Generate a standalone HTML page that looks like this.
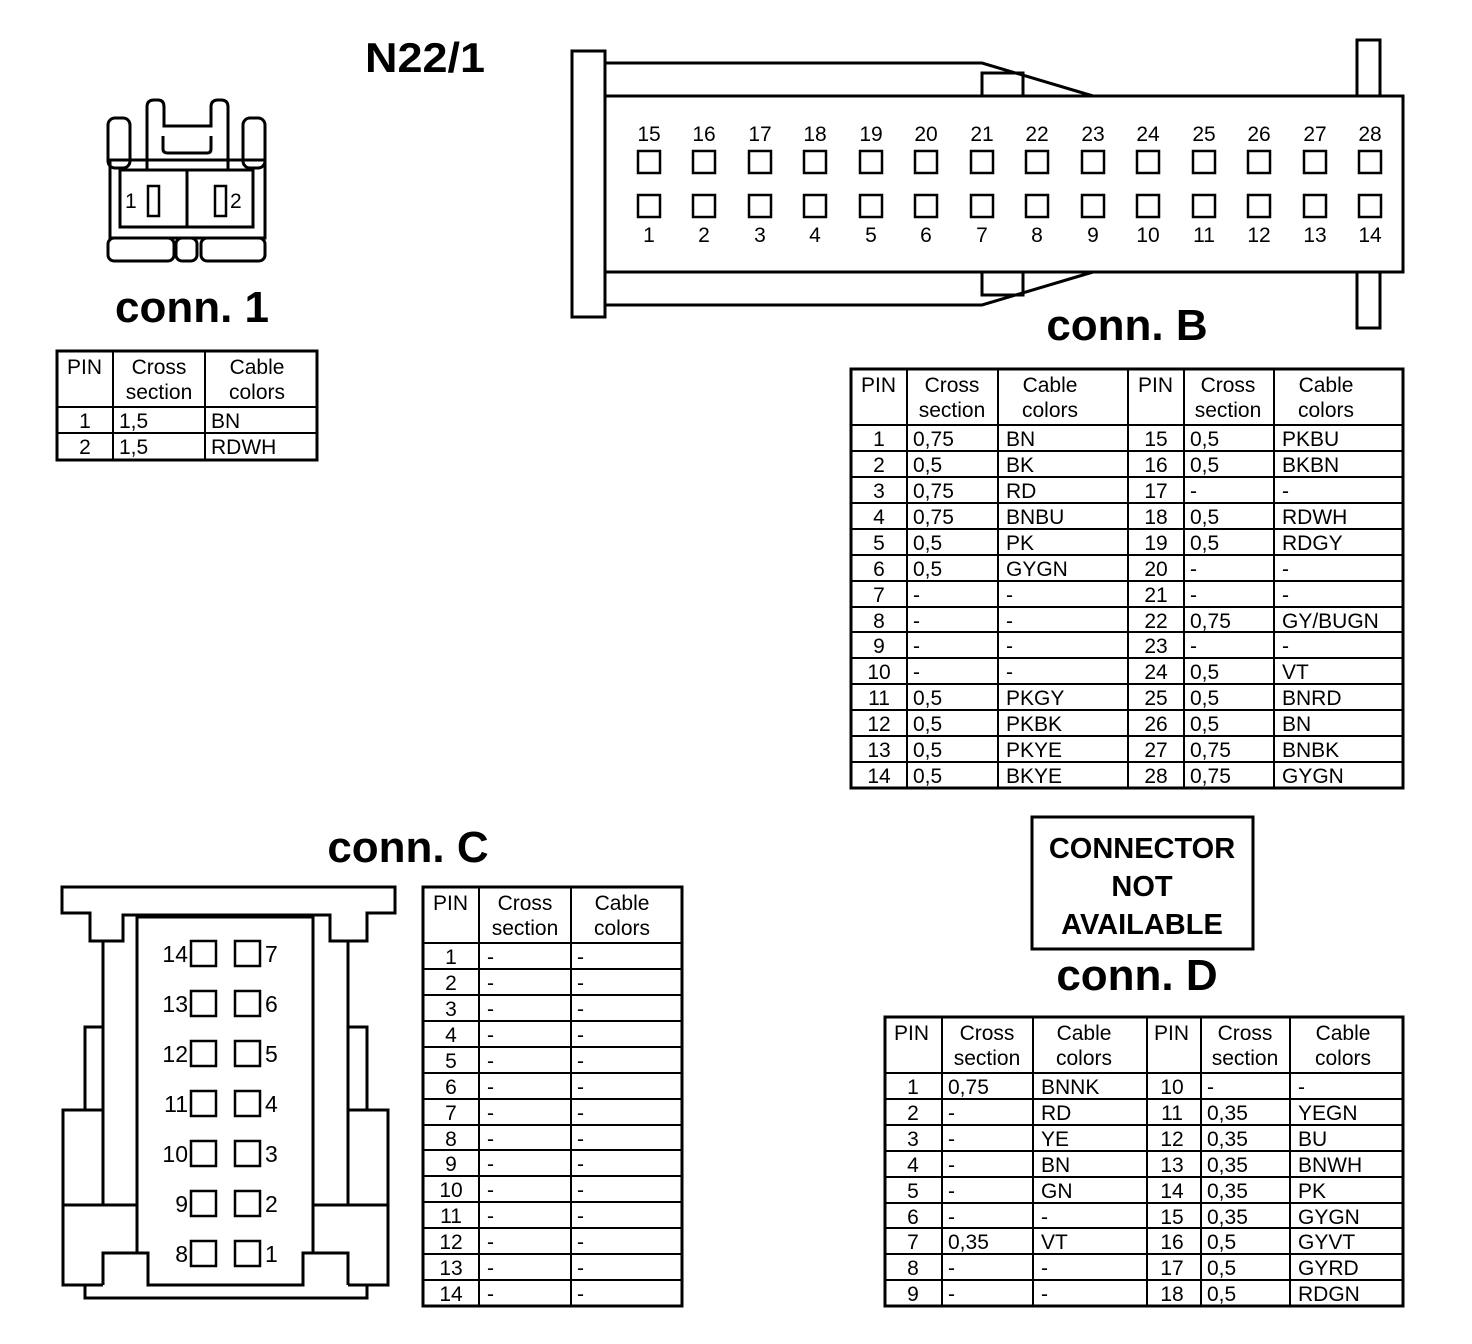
<!DOCTYPE html>
<html><head><meta charset="utf-8"><style>
html,body{margin:0;padding:0;background:#fff}
svg{display:block}
text{font-family:"Liberation Sans",sans-serif;fill:#000}
.t{font-size:21px}
.b{font-weight:bold}
.c{text-anchor:middle}
</style></head><body>
<svg width="1472" height="1344" viewBox="0 0 1472 1344" xmlns="http://www.w3.org/2000/svg">
<g fill="none" stroke="#000" stroke-width="3">
<!-- conn 1 -->
<rect x="108" y="118" width="22" height="50" rx="7"/>
<rect x="243" y="118" width="22" height="50" rx="7"/>
<path d="M147 170 V107 Q147 100 154 100 H158 Q164 100 164 107 V126 H211 V107 Q211 100 218 100 H221 Q228 100 228 107 V170"/>
<path d="M163 136 V149 Q163 153 168 153 H207 Q211 153 211 149 V136"/>
<rect x="110" y="160" width="155" height="78"/>
<rect x="120" y="170" width="133" height="57"/>
<line x1="187" y1="170" x2="187" y2="227"/>
<rect x="148" y="186" width="11" height="30" stroke-width="2.5"/>
<rect x="215" y="186" width="11" height="30" stroke-width="2.5"/>
<rect x="108" y="238" width="66" height="23" rx="6"/>
<rect x="201" y="238" width="64" height="23" rx="6"/>
<rect x="176" y="238" width="21" height="23" rx="6"/>
<!-- conn B -->
<rect x="572" y="51" width="33" height="266"/>
<path d="M605 63 H982 L1093 96"/>
<path d="M605 305 H982 L1093 272"/>
<rect x="982" y="73" width="41" height="23"/>
<rect x="982" y="272" width="41" height="23"/>
<rect x="1357" y="40" width="23" height="288"/>
<rect x="605" y="96" width="798" height="176" fill="#fff"/>
</g>
<g fill="none" stroke="#000" stroke-width="2.5">
<rect x="638" y="151" width="22" height="22"/><rect x="693" y="151" width="22" height="22"/><rect x="749" y="151" width="22" height="22"/><rect x="804" y="151" width="22" height="22"/><rect x="860" y="151" width="22" height="22"/><rect x="915" y="151" width="22" height="22"/><rect x="971" y="151" width="22" height="22"/><rect x="1026" y="151" width="22" height="22"/><rect x="1082" y="151" width="22" height="22"/><rect x="1137" y="151" width="22" height="22"/><rect x="1193" y="151" width="22" height="22"/><rect x="1248" y="151" width="22" height="22"/><rect x="1304" y="151" width="22" height="22"/><rect x="1359" y="151" width="22" height="22"/>
<rect x="638" y="195" width="22" height="22"/><rect x="693" y="195" width="22" height="22"/><rect x="749" y="195" width="22" height="22"/><rect x="804" y="195" width="22" height="22"/><rect x="860" y="195" width="22" height="22"/><rect x="915" y="195" width="22" height="22"/><rect x="971" y="195" width="22" height="22"/><rect x="1026" y="195" width="22" height="22"/><rect x="1082" y="195" width="22" height="22"/><rect x="1137" y="195" width="22" height="22"/><rect x="1193" y="195" width="22" height="22"/><rect x="1248" y="195" width="22" height="22"/><rect x="1304" y="195" width="22" height="22"/><rect x="1359" y="195" width="22" height="22"/>
</g>
<g class="t c">
<text x="649" y="141">15</text><text x="704" y="141">16</text><text x="760" y="141">17</text><text x="815" y="141">18</text><text x="871" y="141">19</text><text x="926" y="141">20</text><text x="982" y="141">21</text><text x="1037" y="141">22</text><text x="1093" y="141">23</text><text x="1148" y="141">24</text><text x="1204" y="141">25</text><text x="1259" y="141">26</text><text x="1315" y="141">27</text><text x="1370" y="141">28</text>
<text x="649" y="242">1</text><text x="704" y="242">2</text><text x="760" y="242">3</text><text x="815" y="242">4</text><text x="871" y="242">5</text><text x="926" y="242">6</text><text x="982" y="242">7</text><text x="1037" y="242">8</text><text x="1093" y="242">9</text><text x="1148" y="242">10</text><text x="1204" y="242">11</text><text x="1259" y="242">12</text><text x="1315" y="242">13</text><text x="1370" y="242">14</text>
</g>
<text x="125" y="208" class="t">1</text><text x="230" y="208" class="t">2</text>
<!-- conn C drawing -->
<g fill="none" stroke="#000" stroke-width="3">
<path d="M62 887 H395 V913 H367 V941 H330 V915 H123 V941 H90 V913 H62 Z"/>
<path d="M137 1253 V917 H313 V1253"/>
<path d="M103 941 V1205 M348 941 V1205"/>
<path d="M103 1027 H85 V1110 H63 V1285 H103 M348 1027 H367 V1110 H388 V1285 H348"/>
<path d="M85 1110 H103 M367 1110 H348"/>
<path d="M63 1205 H137 M388 1205 H313"/>
<path d="M85 1285 V1298 H367 V1285"/>
<path d="M103 1285 V1253 H148 V1285 H303 V1253 H348 V1285"/>
</g>
<g fill="none" stroke="#000" stroke-width="2.5">
<rect x="191" y="941" width="25" height="25"/><rect x="191" y="991" width="25" height="25"/><rect x="191" y="1041" width="25" height="25"/><rect x="191" y="1091" width="25" height="25"/><rect x="191" y="1141" width="25" height="25"/><rect x="191" y="1191" width="25" height="25"/><rect x="191" y="1241" width="25" height="25"/>
<rect x="235" y="941" width="25" height="25"/><rect x="235" y="991" width="25" height="25"/><rect x="235" y="1041" width="25" height="25"/><rect x="235" y="1091" width="25" height="25"/><rect x="235" y="1141" width="25" height="25"/><rect x="235" y="1191" width="25" height="25"/><rect x="235" y="1241" width="25" height="25"/>
</g>
<g class="t" style="font-size:23px">
<g text-anchor="end"><text x="188" y="962">14</text><text x="188" y="1012">13</text><text x="188" y="1062">12</text><text x="188" y="1112">11</text><text x="188" y="1162">10</text><text x="188" y="1212">9</text><text x="188" y="1262">8</text></g>
<text x="265" y="962">7</text><text x="265" y="1012">6</text><text x="265" y="1062">5</text><text x="265" y="1112">4</text><text x="265" y="1162">3</text><text x="265" y="1212">2</text><text x="265" y="1262">1</text>
</g>
<!-- titles -->
<text x="365" y="72" class="b" style="font-size:42px" textLength="120" lengthAdjust="spacingAndGlyphs">N22/1</text>
<text x="192" y="322" class="b c" style="font-size:44px">conn. 1</text>
<text x="1127" y="340" class="b c" style="font-size:44px">conn. B</text>
<text x="408" y="862" class="b c" style="font-size:44px">conn. C</text>
<text x="1137" y="990" class="b c" style="font-size:44px">conn. D</text>
<rect x="1032" y="817" width="221" height="132" fill="none" stroke="#000" stroke-width="3"/>
<g class="b c" style="font-size:29px"><text x="1142" y="858">CONNECTOR</text><text x="1142" y="896">NOT</text><text x="1142" y="934">AVAILABLE</text></g>

<!-- conn 1 table -->
<g fill="none" stroke="#000" stroke-width="2">
<rect x="57" y="351" width="260" height="109" stroke-width="3"/>
<path d="M113 351 V460 M205 351 V460 M57 407 H317 M57 433 H317"/>
</g>
<g class="t">
<text x="67" y="374">PIN</text><text x="159" y="374" class="c">Cross</text><text x="159" y="399" class="c">section</text><text x="257" y="374" class="c">Cable</text><text x="257" y="399" class="c">colors</text>
<text x="85" y="428" class="c">1</text><text x="119" y="428">1,5</text><text x="211" y="428">BN</text>
<text x="85" y="454" class="c">2</text><text x="119" y="454">1,5</text><text x="211" y="454">RDWH</text>
</g>

<!-- conn B table -->
<g fill="none" stroke="#000" stroke-width="2">
<rect x="851" y="369" width="552" height="419" stroke-width="3"/>
<path d="M907 369 V788 M998 369 V788 M1128 369 V788 M1184 369 V788 M1274 369 V788"/>
<path d="M851 425 H1403 M851 451 H1403 M851 477 H1403 M851 503 H1403 M851 529 H1403 M851 555 H1403 M851 581 H1403 M851 607 H1403 M851 632 H1403 M851 658 H1403 M851 684 H1403 M851 710 H1403 M851 736 H1403 M851 762 H1403"/>
</g>
<g class="t">
<text x="861" y="392">PIN</text><text x="952" y="392" class="c">Cross</text><text x="952" y="417" class="c">section</text><text x="1050" y="392" class="c">Cable</text><text x="1050" y="417" class="c">colors</text>
<text x="1138" y="392">PIN</text><text x="1228" y="392" class="c">Cross</text><text x="1228" y="417" class="c">section</text><text x="1326" y="392" class="c">Cable</text><text x="1326" y="417" class="c">colors</text>
<g class="c"><text x="879" y="446">1</text><text x="879" y="472">2</text><text x="879" y="498">3</text><text x="879" y="524">4</text><text x="879" y="550">5</text><text x="879" y="576">6</text><text x="879" y="602">7</text><text x="879" y="628">8</text><text x="879" y="653">9</text><text x="879" y="679">10</text><text x="879" y="705">11</text><text x="879" y="731">12</text><text x="879" y="757">13</text><text x="879" y="783">14</text>
<text x="1156" y="446">15</text><text x="1156" y="472">16</text><text x="1156" y="498">17</text><text x="1156" y="524">18</text><text x="1156" y="550">19</text><text x="1156" y="576">20</text><text x="1156" y="602">21</text><text x="1156" y="628">22</text><text x="1156" y="653">23</text><text x="1156" y="679">24</text><text x="1156" y="705">25</text><text x="1156" y="731">26</text><text x="1156" y="757">27</text><text x="1156" y="783">28</text></g>
<text x="913" y="446">0,75</text><text x="913" y="472">0,5</text><text x="913" y="498">0,75</text><text x="913" y="524">0,75</text><text x="913" y="550">0,5</text><text x="913" y="576">0,5</text><text x="913" y="602">-</text><text x="913" y="628">-</text><text x="913" y="653">-</text><text x="913" y="679">-</text><text x="913" y="705">0,5</text><text x="913" y="731">0,5</text><text x="913" y="757">0,5</text><text x="913" y="783">0,5</text>
<text x="1006" y="446">BN</text><text x="1006" y="472">BK</text><text x="1006" y="498">RD</text><text x="1006" y="524">BNBU</text><text x="1006" y="550">PK</text><text x="1006" y="576">GYGN</text><text x="1006" y="602">-</text><text x="1006" y="628">-</text><text x="1006" y="653">-</text><text x="1006" y="679">-</text><text x="1006" y="705">PKGY</text><text x="1006" y="731">PKBK</text><text x="1006" y="757">PKYE</text><text x="1006" y="783">BKYE</text>
<text x="1190" y="446">0,5</text><text x="1190" y="472">0,5</text><text x="1190" y="498">-</text><text x="1190" y="524">0,5</text><text x="1190" y="550">0,5</text><text x="1190" y="576">-</text><text x="1190" y="602">-</text><text x="1190" y="628">0,75</text><text x="1190" y="653">-</text><text x="1190" y="679">0,5</text><text x="1190" y="705">0,5</text><text x="1190" y="731">0,5</text><text x="1190" y="757">0,75</text><text x="1190" y="783">0,75</text>
<text x="1282" y="446">PKBU</text><text x="1282" y="472">BKBN</text><text x="1282" y="498">-</text><text x="1282" y="524">RDWH</text><text x="1282" y="550">RDGY</text><text x="1282" y="576">-</text><text x="1282" y="602">-</text><text x="1282" y="628">GY/BUGN</text><text x="1282" y="653">-</text><text x="1282" y="679">VT</text><text x="1282" y="705">BNRD</text><text x="1282" y="731">BN</text><text x="1282" y="757">BNBK</text><text x="1282" y="783">GYGN</text>
</g>

<!-- conn C table -->
<g fill="none" stroke="#000" stroke-width="2">
<rect x="423" y="887" width="259" height="419" stroke-width="3"/>
<path d="M479 887 V1306 M571 887 V1306"/>
<path d="M423 943 H682 M423 969 H682 M423 995 H682 M423 1021 H682 M423 1047 H682 M423 1073 H682 M423 1099 H682 M423 1125 H682 M423 1150 H682 M423 1176 H682 M423 1202 H682 M423 1228 H682 M423 1254 H682 M423 1280 H682"/>
</g>
<g class="t">
<text x="433" y="910">PIN</text><text x="525" y="910" class="c">Cross</text><text x="525" y="935" class="c">section</text><text x="622" y="910" class="c">Cable</text><text x="622" y="935" class="c">colors</text>
<g class="c"><text x="451" y="964">1</text><text x="451" y="990">2</text><text x="451" y="1016">3</text><text x="451" y="1042">4</text><text x="451" y="1068">5</text><text x="451" y="1094">6</text><text x="451" y="1120">7</text><text x="451" y="1146">8</text><text x="451" y="1171">9</text><text x="451" y="1197">10</text><text x="451" y="1223">11</text><text x="451" y="1249">12</text><text x="451" y="1275">13</text><text x="451" y="1301">14</text></g>
<text x="487" y="964">-</text><text x="487" y="990">-</text><text x="487" y="1016">-</text><text x="487" y="1042">-</text><text x="487" y="1068">-</text><text x="487" y="1094">-</text><text x="487" y="1120">-</text><text x="487" y="1146">-</text><text x="487" y="1171">-</text><text x="487" y="1197">-</text><text x="487" y="1223">-</text><text x="487" y="1249">-</text><text x="487" y="1275">-</text><text x="487" y="1301">-</text>
<text x="577" y="964">-</text><text x="577" y="990">-</text><text x="577" y="1016">-</text><text x="577" y="1042">-</text><text x="577" y="1068">-</text><text x="577" y="1094">-</text><text x="577" y="1120">-</text><text x="577" y="1146">-</text><text x="577" y="1171">-</text><text x="577" y="1197">-</text><text x="577" y="1223">-</text><text x="577" y="1249">-</text><text x="577" y="1275">-</text><text x="577" y="1301">-</text>
</g>

<!-- conn D table -->
<g fill="none" stroke="#000" stroke-width="2">
<rect x="885" y="1017" width="518" height="289" stroke-width="3"/>
<path d="M942 1017 V1306 M1033 1017 V1306 M1147 1017 V1306 M1201 1017 V1306 M1290 1017 V1306"/>
<path d="M885 1073 H1403 M885 1099 H1403 M885 1125 H1403 M885 1151 H1403 M885 1177 H1403 M885 1203 H1403 M885 1228 H1403 M885 1254 H1403 M885 1280 H1403"/>
</g>
<g class="t">
<text x="894" y="1040">PIN</text><text x="987" y="1040" class="c">Cross</text><text x="987" y="1065" class="c">section</text><text x="1084" y="1040" class="c">Cable</text><text x="1084" y="1065" class="c">colors</text>
<text x="1154" y="1040">PIN</text><text x="1245" y="1040" class="c">Cross</text><text x="1245" y="1065" class="c">section</text><text x="1343" y="1040" class="c">Cable</text><text x="1343" y="1065" class="c">colors</text>
<g class="c"><text x="913" y="1094">1</text><text x="913" y="1120">2</text><text x="913" y="1146">3</text><text x="913" y="1172">4</text><text x="913" y="1198">5</text><text x="913" y="1224">6</text><text x="913" y="1249">7</text><text x="913" y="1275">8</text><text x="913" y="1301">9</text>
<text x="1172" y="1094">10</text><text x="1172" y="1120">11</text><text x="1172" y="1146">12</text><text x="1172" y="1172">13</text><text x="1172" y="1198">14</text><text x="1172" y="1224">15</text><text x="1172" y="1249">16</text><text x="1172" y="1275">17</text><text x="1172" y="1301">18</text></g>
<text x="948" y="1094">0,75</text><text x="948" y="1120">-</text><text x="948" y="1146">-</text><text x="948" y="1172">-</text><text x="948" y="1198">-</text><text x="948" y="1224">-</text><text x="948" y="1249">0,35</text><text x="948" y="1275">-</text><text x="948" y="1301">-</text>
<text x="1041" y="1094">BNNK</text><text x="1041" y="1120">RD</text><text x="1041" y="1146">YE</text><text x="1041" y="1172">BN</text><text x="1041" y="1198">GN</text><text x="1041" y="1224">-</text><text x="1041" y="1249">VT</text><text x="1041" y="1275">-</text><text x="1041" y="1301">-</text>
<text x="1207" y="1094">-</text><text x="1207" y="1120">0,35</text><text x="1207" y="1146">0,35</text><text x="1207" y="1172">0,35</text><text x="1207" y="1198">0,35</text><text x="1207" y="1224">0,35</text><text x="1207" y="1249">0,5</text><text x="1207" y="1275">0,5</text><text x="1207" y="1301">0,5</text>
<text x="1298" y="1094">-</text><text x="1298" y="1120">YEGN</text><text x="1298" y="1146">BU</text><text x="1298" y="1172">BNWH</text><text x="1298" y="1198">PK</text><text x="1298" y="1224">GYGN</text><text x="1298" y="1249">GYVT</text><text x="1298" y="1275">GYRD</text><text x="1298" y="1301">RDGN</text>
</g>
</svg>
</body></html>
